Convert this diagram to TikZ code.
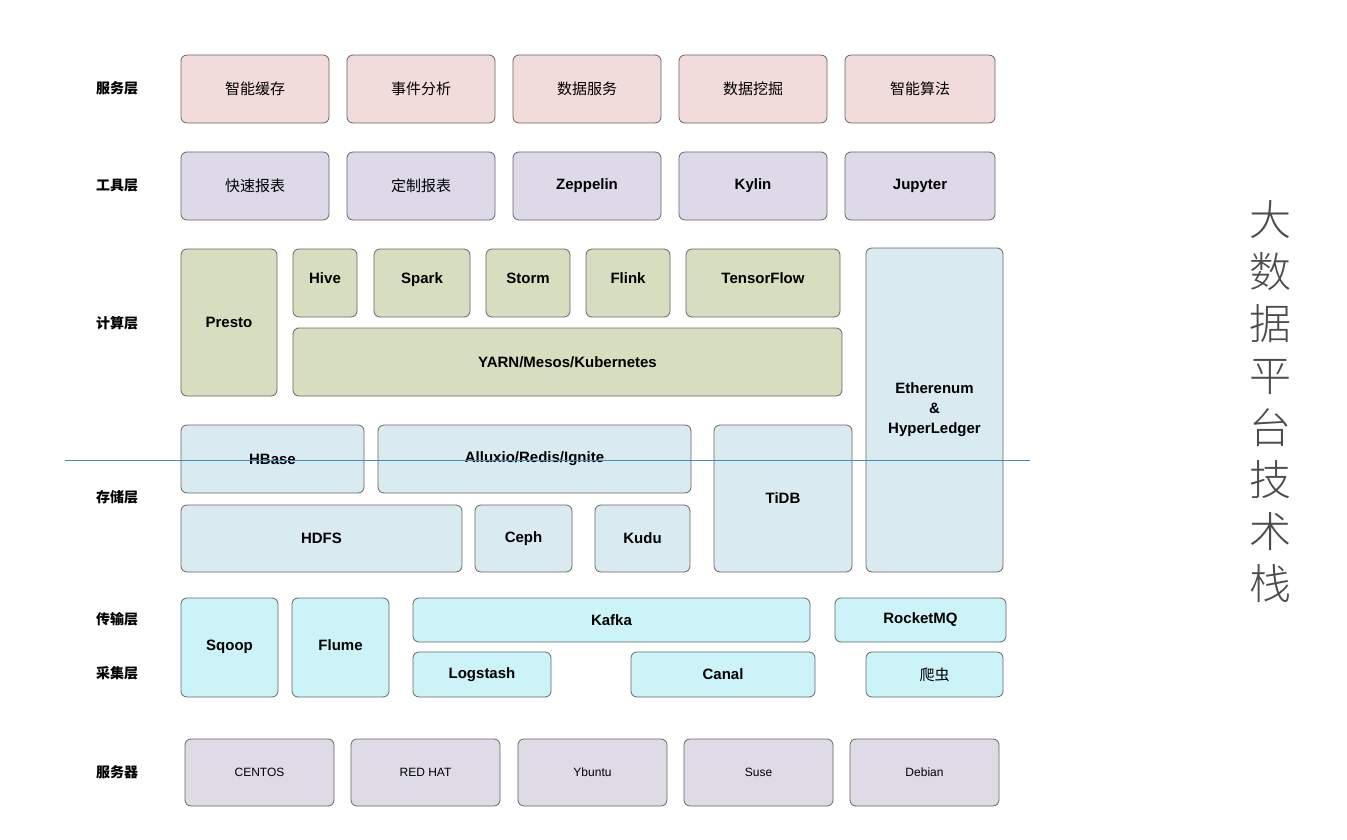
\documentclass[tikz,border=0pt]{standalone}
\usepackage{fontspec}
\setmainfont{Liberation Sans}
\newfontfamily\cjk{Noto Sans CJK SC}
\newfontfamily\cjkl{Noto Sans CJK SC Light}
\definecolor{cpink}{RGB}{242,220,219}
\definecolor{clav}{RGB}{221,217,232}
\definecolor{cgrn}{RGB}{215,222,192}
\definecolor{cblue}{RGB}{218,234,241}
\definecolor{ccyn}{RGB}{204,243,248}
\definecolor{csrv}{RGB}{222,219,230}
\definecolor{cline}{RGB}{59,143,192}
\begin{document}
\begin{tikzpicture}[x=1pt,y=-1pt,
  bx/.style={draw=black!60,rounded corners=6pt,line width=0.8pt,inner sep=0pt,font=\fontsize{15}{17}\selectfont\bfseries},
  pink/.style={bx,fill=cpink},
  lav/.style={bx,fill=clav},
  grn/.style={bx,fill=cgrn},
  lblue/.style={bx,fill=cblue},
  cyn/.style={bx,fill=ccyn},
  srv/.style={bx,fill=csrv,font=\fontsize{12}{14}\selectfont},
  cj/.style={font=\cjk\fontsize{15}{17}\selectfont},
  lab/.style={font=\cjk\fontsize{14}{16}\selectfont\bfseries}]
\useasboundingbox (0,0) rectangle (1347,840);
\fill[white] (0,0) rectangle (1347,840);
\def\B#1#2#3#4#5#6#7{\node[#6,minimum width={#4-#2},minimum height={#5-#3}] (#1) at ({(#2+#4)/2},{(#3+#5)/2}) {#7};}
% service
\B{s1}{181}{55}{329}{123}{pink,cj}{智能缓存}
\B{s2}{347}{55}{495}{123}{pink,cj}{事件分析}
\B{s3}{513}{55}{661}{123}{pink,cj}{数据服务}
\B{s4}{679}{55}{827}{123}{pink,cj}{数据挖掘}
\B{s5}{845}{55}{995}{123}{pink,cj}{智能算法}
% tools
\B{t1}{181}{152}{329}{220}{lav,cj}{快速报表}
\B{t2}{347}{152}{495}{220}{lav,cj}{定制报表}
\B{t3}{513}{152}{661}{220}{lav}{Zeppelin}
\B{t4}{679}{152}{827}{220}{lav}{Kylin}
\B{t5}{845}{152}{995}{220}{lav}{Jupyter}
% compute
\B{c0}{181}{249}{277}{396}{grn}{Presto}
\B{c1}{293}{249}{357}{317}{grn}{\raisebox{10pt}{Hive}}
\B{c2}{374}{249}{470}{317}{grn}{\raisebox{10pt}{Spark}}
\B{c3}{486}{249}{570}{317}{grn}{\raisebox{10pt}{Storm}}
\B{c4}{586}{249}{670}{317}{grn}{\raisebox{10pt}{Flink}}
\B{c5}{686}{249}{840}{317}{grn}{\raisebox{10pt}{TensorFlow}}
\B{c6}{293}{328}{842}{396}{grn}{YARN/Mesos/Kubernetes}
\B{eth}{866}{248}{1003}{572}{lblue,align=center}{Etherenum\\[3pt]\&\\[3pt]HyperLedger}
% storage
\B{h1}{181}{425}{364}{493}{lblue}{\raisebox{-3pt}{HBase}}
\B{h2}{378}{425}{691}{493}{lblue}{\raisebox{-3pt}{Alluxio/Redis/Ignite}}
\B{h3}{714}{425}{852}{572}{lblue}{TiDB}
\B{h4}{181}{505}{462}{572}{lblue}{HDFS}
\B{h5}{475}{505}{572}{572}{lblue}{Ceph}
\B{h6}{595}{505}{690}{572}{lblue}{Kudu}
% transport
\B{q1}{181}{598}{278}{697}{cyn}{\raisebox{5pt}{Sqoop}}
\B{q2}{292}{598}{389}{697}{cyn}{\raisebox{5pt}{Flume}}
\B{q3}{413}{598}{810}{642}{cyn}{Kafka}
\B{q4}{835}{598}{1006}{642}{cyn}{RocketMQ}
\B{q5}{413}{652}{551}{697}{cyn}{Logstash}
\B{q6}{631}{652}{815}{697}{cyn}{Canal}
\B{q7}{866}{652}{1003}{697}{cyn,cj}{爬虫}
% servers
\B{v1}{185}{739}{334}{806}{srv}{CENTOS}
\B{v2}{351}{739}{500}{806}{srv}{RED HAT}
\B{v3}{518}{739}{667}{806}{srv}{Ybuntu}
\B{v4}{684}{739}{833}{806}{srv}{Suse}
\B{v5}{850}{739}{999}{806}{srv}{Debian}
% labels
\node[lab] (l1) at (117,88) {服务层};
\node[lab] (l2) at (117,186) {工具层};
\node[lab] (l3) at (117,323) {计算层};
\node[lab] (l4) at (117,497) {存储层};
\node[lab] (l5) at (117,619) {传输层};
\node[lab] (l6) at (117,673) {采集层};
\node[lab] (l7) at (117,772) {服务器};
\coordinate (la) at (65,460);
\coordinate (lb) at (1030,460);
\draw[line width=0.9pt,color=cline] (la) -- (lb);
\node[font=\cjkl\fontsize{42}{52}\selectfont,text=black!70,align=center] (title) at (1270,402) {大\\数\\据\\平\\台\\技\\术\\栈};
\end{tikzpicture}
\end{document}
